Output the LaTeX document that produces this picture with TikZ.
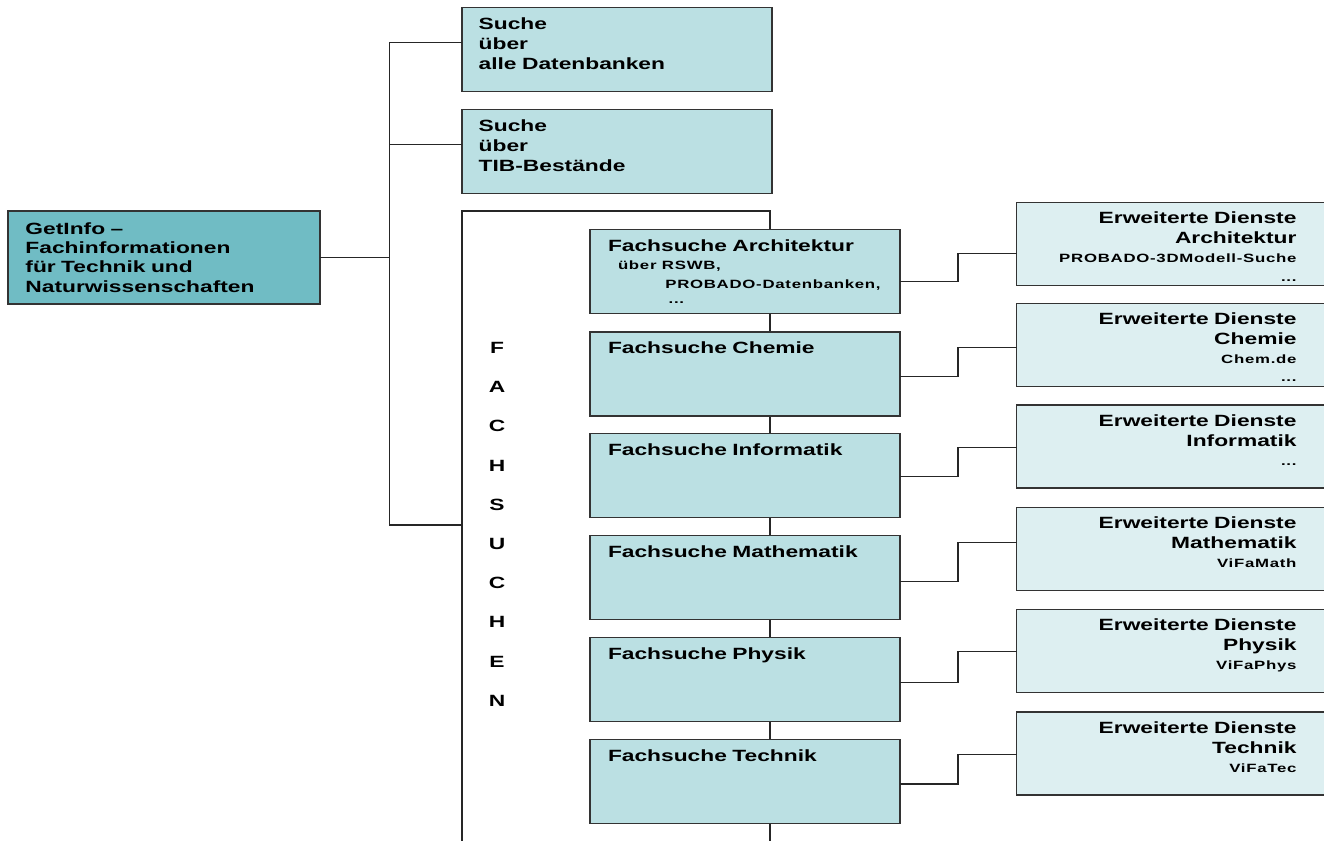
\documentclass[tikz,border=0pt]{standalone}
\usepackage{fontspec}
\setmainfont{Liberation Sans}[FakeStretch=1.4]
\newfontfamily\smallfont{Liberation Sans}[FakeStretch=1.4,LetterSpace=6]
\usepackage{tikz}
\usetikzlibrary{positioning}
\usetikzlibrary{calc}

\definecolor{tealdark}{HTML}{70BCC4}
\definecolor{tealmid}{HTML}{BBE0E3}
\definecolor{teallight}{HTML}{DDEFF1}
\newcommand{\subtxt}[1]{{\smallfont\bfseries\fontsize{9}{14.5}\selectfont #1}}

\begin{document}
\begin{tikzpicture}[x=0.75pt,y=-0.75pt,
		box/.style={draw=black!80,line width=1.1pt,anchor=north west,inner ysep=0pt,outer sep=0pt,align=left,font=\fontsize{12.2}{14.5}\selectfont\bfseries},
		mainbox/.style={box,fill=tealdark,inner xsep=13.1pt,text width=207.75pt,text height=17.25pt,text depth=52.5pt},
		searchbox/.style={box,fill=tealmid,inner xsep=12.5pt,text width=207.5pt,text height=16.3pt,text depth=46.7pt,font=\fontsize{12.2}{15}\selectfont\bfseries},
		subjectbox/.style={box,fill=tealmid,inner xsep=13.5pt,text width=205.5pt,text height=16.5pt,text depth=46.5pt},
		servicebox/.style={box,fill=teallight,align=right,inner xsep=25.5pt,text width=184.5pt,text height=16.1pt,text depth=46.15pt,font=\fontsize{12.2}{14.7}\selectfont\bfseries},
		link/.style={draw=black!85,line width=0.8pt}]
			\useasboundingbox (0,0) rectangle (1324,840);

			% Fachsuchen frame, open below the page edge
			\draw[link] (462,860) |- (770,211) -- (770,860);
			\node[inner sep=0pt,anchor=north,align=center,text width=20pt,font=\fontsize{12.2}{29.4}\selectfont\bfseries] (fachlabel) at (497,342) {F\\A\\C\\H\\S\\U\\C\\H\\E\\N};

			\node[mainbox] (getinfo) at (8,211) {GetInfo –\\Fachinformationen\\für Technik und\\Naturwissenschaften};
			\node[searchbox] (alle) at (462,7.5) {Suche\\über\\alle Datenbanken};
			\node[searchbox] (tib) at (462,109.3) {Suche\\über\\TIB-Bestände};

			\node[subjectbox] (arch) at (590,229.7) {Fachsuche Architektur\\[-1.5pt]\hspace*{7.5pt}\subtxt{über RSWB,}\\\hspace*{43pt}\subtxt{PROBADO-Datenbanken,}\\[-3pt]\hspace*{45.5pt}\subtxt{...}};
			\node[subjectbox] (chem) at (590,331.8) {Fachsuche Chemie};
			\node[subjectbox] (inf) at (590,433.5) {Fachsuche Informatik};
			\node[subjectbox] (math) at (590,535.3) {Fachsuche Mathematik};
			\node[subjectbox] (phys) at (590,637.3) {Fachsuche Physik};
			\node[subjectbox] (tech) at (590,739.3) {Fachsuche Technik};

			\node[servicebox] (earch) at (1016.5,202.3) {Erweiterte Dienste\\Architektur\\\subtxt{PROBADO-3DModell-Suche}\\[-1pt]\subtxt{...}};
			\node[servicebox] (echem) at (1016.5,303.3) {Erweiterte Dienste\\Chemie\\\subtxt{Chem.de}\\[-1.5pt]\subtxt{...}};
			\node[servicebox] (einf) at (1016.5,405) {Erweiterte Dienste\\Informatik\\\subtxt{...}};
			\node[servicebox] (emath) at (1016.5,507.3) {Erweiterte Dienste\\Mathematik\\\subtxt{ViFaMath}};
			\node[servicebox] (ephys) at (1016.5,609.3) {Erweiterte Dienste\\Physik\\\subtxt{ViFaPhys}};
			\node[servicebox] (etech) at (1016.5,712) {Erweiterte Dienste\\Technik\\\subtxt{ViFaTec}};

			% tree on the left
			\draw[link] (getinfo.east) -- ++(70,0) coordinate (trunk);
			\draw[link] ([yshift=5.25pt]alle.west) -| (trunk);
			\draw[link] ([yshift=5.25pt]tib.west) -| (trunk);
			\coordinate (fsin) at (462,525);
			\draw[link] (fsin) -| (trunk);

			% Fachsuche -> Erweiterte Dienste
			\draw[link] ([yshift=-7.5pt]arch.east) -- ++(58,0) |- ([yshift=-7.5pt]earch.west);
			\draw[link] ([yshift=-2.2pt]chem.east) -- ++(58,0) |- ([yshift=-2pt]echem.west);
			\draw[link] ([yshift=-0.5pt]inf.east) -- ++(58,0) |- ([yshift=-0.4pt]einf.west);
			\draw[link] ([yshift=-2.8pt]math.east) -- ++(58,0) |- ([yshift=5pt]emath.west);
			\draw[link] ([yshift=-2.2pt]phys.east) -- ++(58,0) |- ([yshift=-0.8pt]ephys.west);
			\draw[link] ([yshift=-2pt]tech.east) -- ++(58,0) |- ([yshift=-1pt]etech.west);
		\end{tikzpicture}
\end{document}
